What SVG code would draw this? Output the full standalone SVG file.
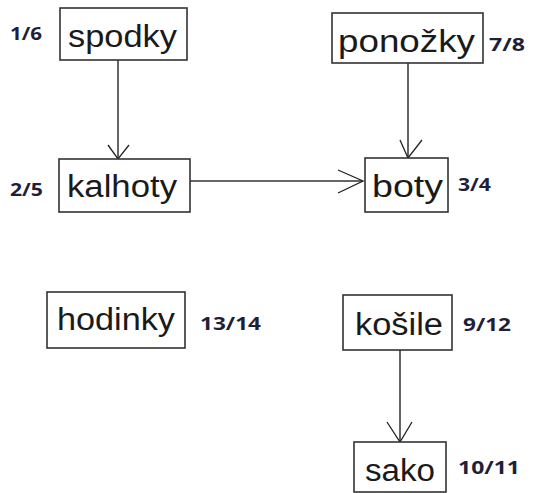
<svg xmlns="http://www.w3.org/2000/svg" width="535" height="493" viewBox="0 0 535 493">
<defs>
<style>
.box{fill:#fff;stroke:#333;stroke-width:1.6}
.t{font-family:"Liberation Sans",Arial,sans-serif;font-size:31px;fill:#1a1a1a}
.n{font-family:"Open Sans","Noto Sans",sans-serif;font-weight:bold;font-size:17px;fill:#1f1f3a}
.e{fill:none;stroke:#333;stroke-width:1.5}
.h{fill:none;stroke:#222;stroke-width:1.3}
</style>
</defs>
<rect width="535" height="493" fill="#fff"/>
<g id="edges">
<path class="e" d="M118 60V159"/>
<path class="h" d="M108 145L118 159L129 145"/>
<path class="e" d="M190 181H363"/>
<path class="h" d="M338 170L363 181L338 193"/>
<path class="e" d="M408 63V158"/>
<path class="h" d="M400 140L408 158L422 140"/>
<path class="e" d="M400 350V442"/>
<path class="h" d="M387 422L400 442L412 422"/>
</g>
<g id="spodky">
<rect class="box" x="60" y="8" width="127" height="52"/>
<text class="t" x="68" y="47" textLength="109" lengthAdjust="spacingAndGlyphs">spodky</text>
<text class="n" x="10" y="40" textLength="32" lengthAdjust="spacingAndGlyphs">1/6</text>
</g>
<g id="kalhoty">
<rect class="box" x="59" y="159" width="131" height="53"/>
<text class="t" x="67" y="197" textLength="110" lengthAdjust="spacingAndGlyphs">kalhoty</text>
<text class="n" x="10" y="196" textLength="33" lengthAdjust="spacingAndGlyphs">2/5</text>
</g>
<g id="ponozky">
<rect class="box" x="332" y="13" width="151" height="50"/>
<text class="t" x="338" y="52" textLength="137" lengthAdjust="spacingAndGlyphs">ponožky</text>
<text class="n" x="489" y="51" textLength="36" lengthAdjust="spacingAndGlyphs">7/8</text>
</g>
<g id="boty">
<rect class="box" x="365" y="158" width="83" height="54"/>
<text class="t" x="372" y="197" textLength="71" lengthAdjust="spacingAndGlyphs">boty</text>
<text class="n" x="458" y="191" textLength="33" lengthAdjust="spacingAndGlyphs">3/4</text>
</g>
<g id="hodinky">
<rect class="box" x="47" y="292" width="138" height="56"/>
<text class="t" x="57" y="330" textLength="118" lengthAdjust="spacingAndGlyphs">hodinky</text>
<text class="n" x="200" y="330" textLength="61" lengthAdjust="spacingAndGlyphs">13/14</text>
</g>
<g id="kosile">
<rect class="box" x="343" y="295" width="109" height="55"/>
<text class="t" x="355" y="335" textLength="88" lengthAdjust="spacingAndGlyphs">košile</text>
<text class="n" x="463" y="331" textLength="48" lengthAdjust="spacingAndGlyphs">9/12</text>
</g>
<g id="sako">
<rect class="box" x="354" y="442" width="92" height="50"/>
<text class="t" x="365" y="481" textLength="70" lengthAdjust="spacingAndGlyphs">sako</text>
<text class="n" x="458" y="474" textLength="62" lengthAdjust="spacingAndGlyphs">10/11</text>
</g>
</svg>
